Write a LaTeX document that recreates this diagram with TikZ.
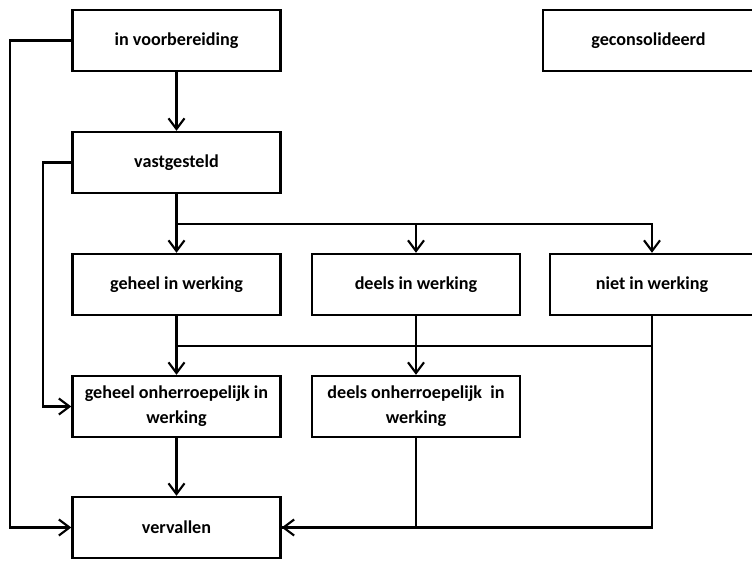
\documentclass[tikz,border=0pt]{standalone}
\usepackage{fontspec}
\setmainfont{Carlito}
\usetikzlibrary{arrows.meta}

\begin{document}
\begin{tikzpicture}[x=0.75pt,y=-0.75pt,
  state/.style={draw, line width=1.8pt, minimum width=156pt, minimum height=45.75pt,
    align=center, inner sep=2pt, font=\bfseries\fontsize{13.6}{19}\selectfont},
  flow/.style={line width=1.6pt, -{Straight Barb[length=8pt,width=12pt,line width=1.6pt]}}]
\useasboundingbox (0,0) rectangle (752,560);
% Top row
\node[state] (vb) at (176.5,40.5) {in voorbereiding};
\node[state, minimum width=158.25pt] (geco) at (648.5,40.5) {geconsolideerd};
\node[state] (vast) at (176.5,162.5) {vastgesteld};
% In werking
\node[state] (gehw) at (176.5,284.5) {geheel in werking};
\node[state] (deelw) at (416,284.5) {deels in werking};
\node[state, minimum width=153pt] (niet) at (652,284.5) {niet in werking};
% Onherroepelijk
\node[state] (onh) at (176.5,406.5) {geheel onherroepelijk in\\werking};
\node[state] (deelo) at (416,406.5) {deels onherroepelijk\ \ in\\werking};
% End
\node[state] (verv) at (176.5,527.5) {vervallen};

% Connectors
\draw[flow] (vb.south) -- (vast.north);
\draw[flow] (vb.west) -- ++(-61,0) |- (verv.west);
\draw[flow] (vast.west) -- ++(-28,0) |- (onh.west);
\draw[line width=1.6pt] (vast.south) -- ++(0,30) coordinate (split);
\draw[flow] (split) -- (gehw.north);
\draw[flow] (split) -| (deelw.north);
\draw[flow] (split) -| (niet.north);
\draw[flow] (gehw.south) -- (onh.north);
\draw[flow] (deelw.south) -- (deelo.north);
\draw[line width=1.6pt] (niet.south) -- ++(0,30) coordinate (merge);
\draw[line width=1.6pt] (merge) -| (gehw.south);
\draw[line width=1.6pt] (deelo.south) |- (verv.east);
\draw[flow] (merge) |- (verv.east);
\draw[flow] (onh.south) -- (verv.north);
\end{tikzpicture}
\end{document}
